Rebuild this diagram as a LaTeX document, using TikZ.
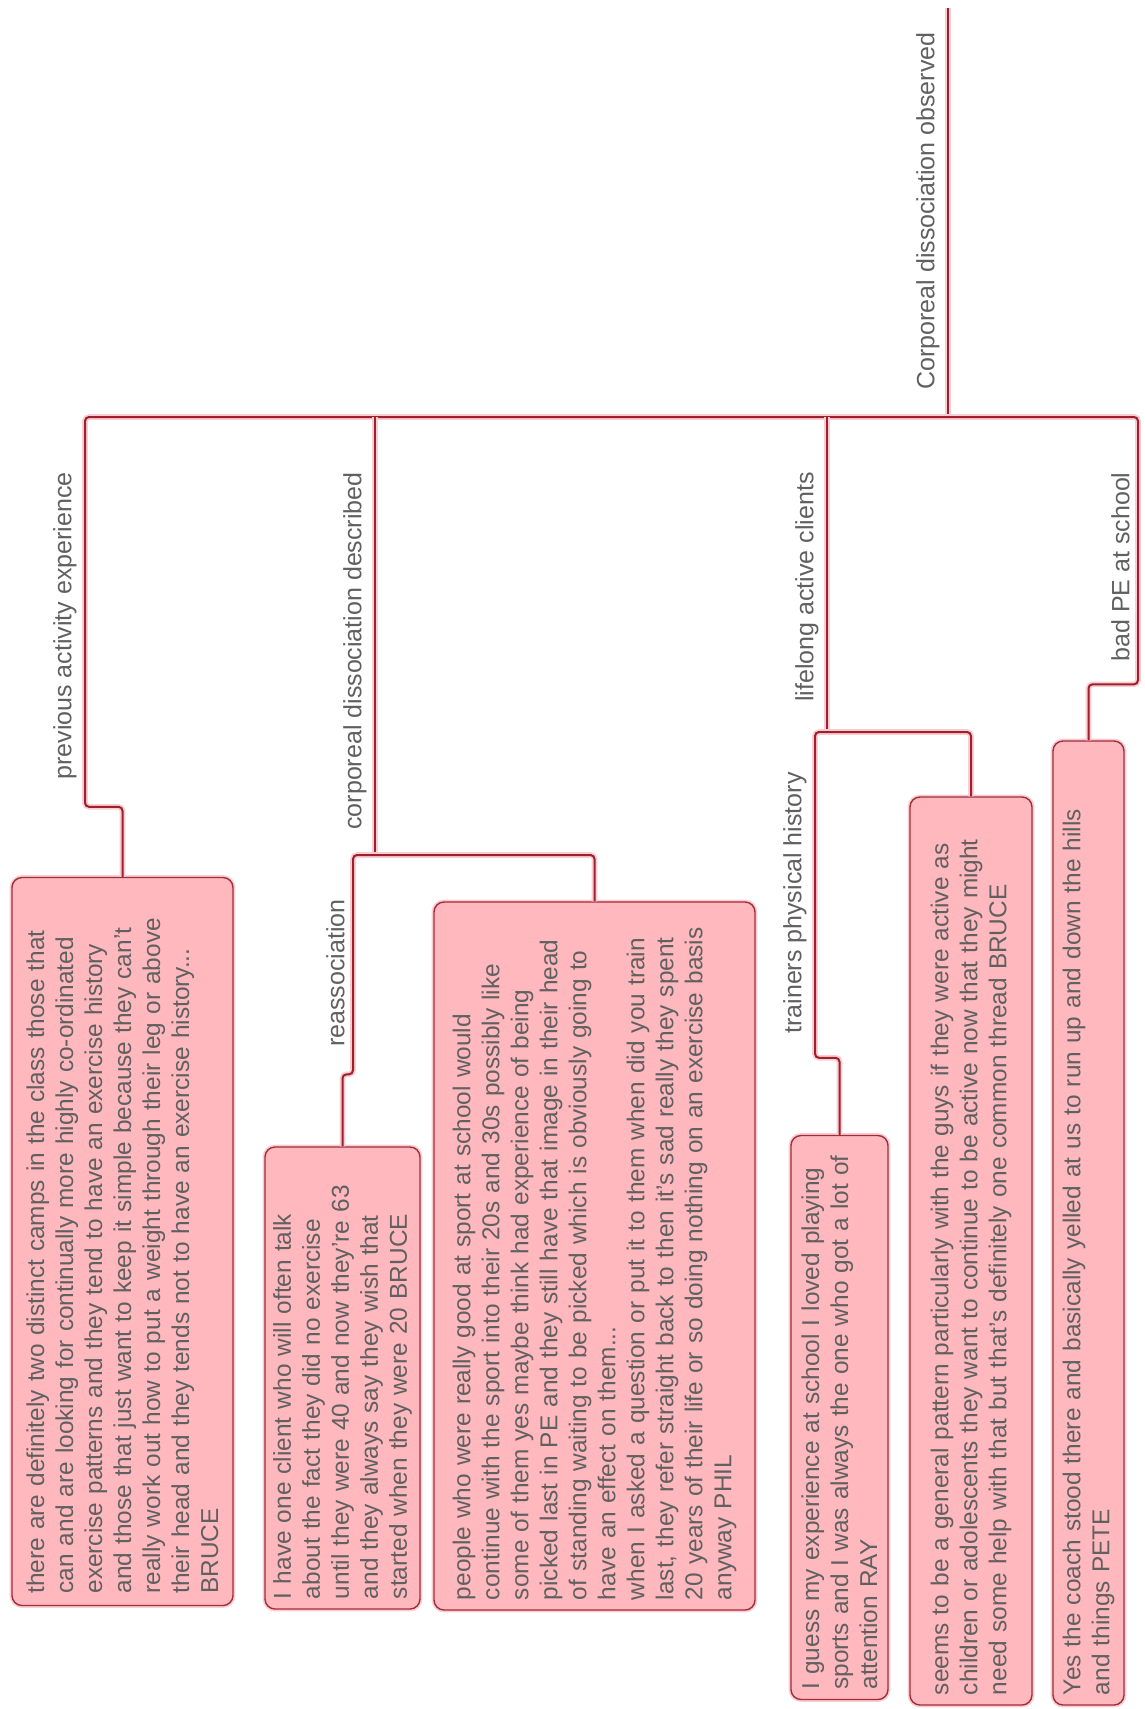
\documentclass[tikz,border=0pt]{standalone}
\usepackage{fontspec}
\setmainfont{Liberation Sans}
\usepackage{tikz}
\usetikzlibrary{calc,positioning}
\usepackage{xcolor}
\definecolor{linkred}{RGB}{158,32,45}
\definecolor{boxedge}{RGB}{160,45,58}
\definecolor{boxfill}{RGB}{255,184,190}
\definecolor{halo}{RGB}{250,205,210}
\definecolor{inkgray}{RGB}{96,96,96}
\newcommand\quotefont{\fontsize{12.2}{14.5}\selectfont}
\newcommand\tagfont{\fontsize{12.5}{15}\selectfont}
\tikzset{
  quote/.style={rotate=90, draw=boxedge, fill=boxfill, rounded corners=5pt,
    line width=0.7pt, preaction={draw=halo, line width=2.4pt},
    align=left, font=\quotefont, text=inkgray, inner xsep=5pt, inner ysep=2pt},
  link/.style={draw=linkred, line width=1pt, rounded corners=2pt,
    preaction={draw=halo, line width=2.8pt}},
  tag/.style={rotate=90, anchor=south east, font=\tagfont, text=inkgray, inner sep=2pt}
}

\begin{document}
\begin{tikzpicture}[x=0.5pt, y=-0.5pt]
  \useasboundingbox (0,0) rectangle (1145,1709);
  % quotes
  \node[quote, text width=352pt, inner xsep=6pt, minimum height=110.5pt] (qbruce) at (122.5,1241.5)
    {there are definitely two distinct camps in the class those that\\
     can and are looking for continually more highly co-ordinated\\
     exercise patterns and they tend to have an exercise history\\
     and those that just want to keep it simple because they can't\\
     really work out how to put a weight through their leg or above\\
     their head and they tends not to have an exercise history...\\
     BRUCE};
  \node[quote, text width=221pt, minimum height=77.5pt] (qclient) at (342.5,1378)
    {I have one client who will often talk\\
     about the fact they did no exercise\\
     until they were 40 and now they're 63\\
     and they always say they wish that\\
     started when they were 20 BRUCE};
  \node[quote, text width=344pt, minimum height=160.5pt] (qphil) at (594.5,1256)
    {people who were really good at sport at school would\\
     continue with the sport into their 20s and 30s possibly like\\
     some of them yes maybe think had experience of being\\
     picked last in PE and they still have that image in their head\\
     of standing waiting to be picked which is obviously going to\\
     have an effect on them...\\
     when I asked a question or put it to them when did you train\\
     last, they refer straight back to then it's sad really they spent\\
     20 years of their life or so doing nothing on an exercise basis\\
     anyway PHIL};
  \node[quote, text width=272pt, minimum height=48.5pt] (qray) at (839.5,1417.5)
    {I guess my experience at school I loved playing\\
     sports and I was always the one who got a lot of\\
     attention RAY};
  \node[quote, text width=444pt, minimum height=61pt] (qguys) at (971,1251)
    {seems to be a general pattern particularly with the guys if they were active as\\
     children or adolescents they want to continue to be active now that they might\\
     need some help with that but that's definitely one common thread BRUCE};
  \node[quote, text width=472pt, minimum height=35.5pt] (qcoach) at (1088.5,1223)
    {Yes the coach stood there and basically yelled at us to run up and down the hills\\
     and things PETE};

  % tree
  \coordinate (top) at (948,8);
  \coordinate (hub) at (948,417);
  \coordinate (pv) at (85,417);
  \coordinate (cd) at (375,417);
  \coordinate (la) at (827,417);
  \coordinate (bp) at (1138,417);
  \coordinate (ra) at (353,855);
  \coordinate (tp) at (815,732);
  \draw[link] (top) -- (hub);
  \draw[link] (hub) -- (pv) |- ($(qbruce.east)+(0,-70)$) -- (qbruce.east);
  \draw[link] (hub) -- (bp) |- ($(qcoach.east)+(0,-56)$) -- (qcoach.east);
  \draw[link] (cd) -- (cd |- ra);
  \draw[link] (qphil.east) |- (ra) |- ($(qclient.east)+(0,-72)$) -- (qclient.east);
  \draw[link] (la) -- (la |- tp);
  \draw[link] (qguys.east) |- (tp) |- ($(qray.east)+(0,-77)$) -- (qray.east);

  % labels
  \node[tag] (lroot) at (944,28) {Corporeal dissociation observed};
  \node[tag] (lpv) at (81,468) {previous activity experience};
  \node[tag] (lcd) at (371,468) {corporeal dissociation described};
  \node[tag] (lla) at (823,468) {lifelong active clients};
  \node[tag] (lbp) at (1134,468) {bad PE at school};
  \node[tag] (lra) at (349,895) {reassociation};
  \node[tag] (ltp) at (811,768) {trainers physical history};
\end{tikzpicture}
\end{document}
